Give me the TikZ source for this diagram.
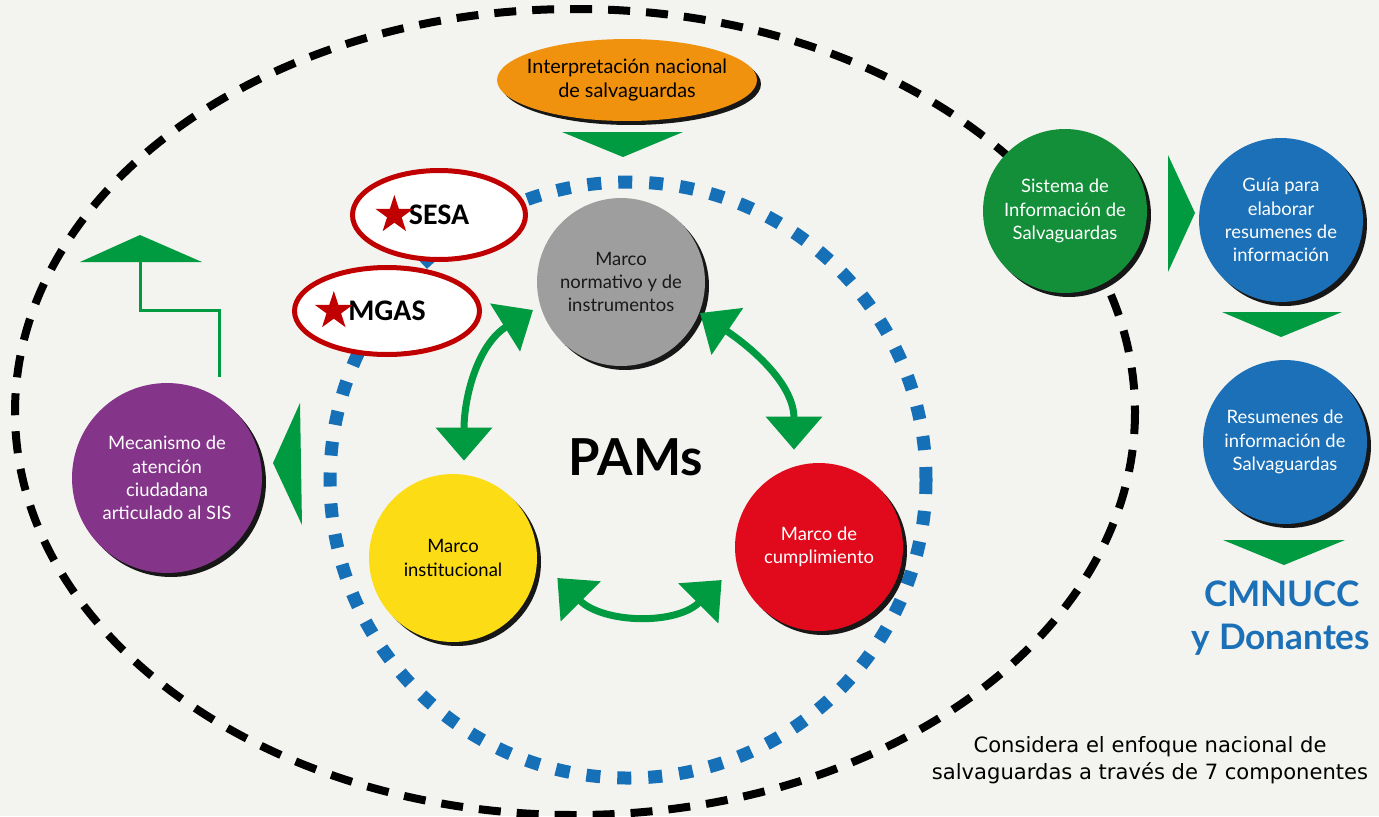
\documentclass[tikz,border=0pt]{standalone}
\usepackage{fontspec}
\setmainfont{Lato}
\newfontfamily\tagfont{Carlito}
\newfontfamily\notefont{DejaVu Sans}
\usepackage{tikz}
\usetikzlibrary{shapes.geometric,arrows.meta,shadows,positioning}

\definecolor{bgcol}{HTML}{F3F3EF}
\definecolor{orangec}{HTML}{F0920E}
\definecolor{grayc}{HTML}{9E9E9E}
\definecolor{yellowc}{HTML}{FCDC15}
\definecolor{redc}{HTML}{E10A1C}
\definecolor{purplec}{HTML}{843489}
\definecolor{greenc}{HTML}{138F3A}
\definecolor{bluec}{HTML}{1B70B7}
\definecolor{arrowgreen}{HTML}{009A41}
\definecolor{dotblue}{HTML}{1570B8}
\definecolor{sesared}{HTML}{C00000}

\tikzset{
	bubble/.style={circle, minimum size=3.36cm, inner sep=0pt, align=center,
		font=\fontsize{10.5}{13.2}\selectfont,
		drop shadow={shadow xshift=0.08cm, shadow yshift=-0.08cm, opacity=0.9, fill=black}},
	tagoval/.style={ellipse, draw=sesared, line width=0.1cm, fill=white, inner sep=0pt},
	tagtext/.style={font=\tagfont\bfseries\fontsize{17}{20}\selectfont, inner sep=0pt},
	redstar/.style={star, star points=5, star point ratio=2.6, fill=sesared, minimum size=0.8cm, inner sep=0pt},
	twoway/.style={draw=arrowgreen, line width=0.14cm,
		{Triangle[width=1.1cm,length=0.66cm]}-{Triangle[width=1.1cm,length=0.66cm]}}
}

\begin{document}
\begin{tikzpicture}[x=0.02cm, y=-0.02cm]
		\useasboundingbox (0,0) rectangle (1379,816);
		\fill[bgcol] (0,0) rectangle (1379,816);
		\clip (0,0) rectangle (1379,816);

		% Outer dashed ellipse.
		\draw[black, line width=0.16cm, dash pattern=on 0.44cm off 0.32cm]
			(575,412) ellipse [x radius=560, y radius=403];

		% Blue dotted circle round the PAMs.
		\draw[dotblue, line width=0.26cm, dash pattern=on 0.28cm off 0.34cm]
			(628,480) circle [radius=298];

		% Components.
		\node[bubble, ellipse, fill=orangec, minimum width=5.2cm, minimum height=1.64cm, inner xsep=-0.2cm,
			font=\fontsize{11.3}{13.5}\selectfont] (interp) at (627,80)
			{Interpretación nacional\\de salvaguardas};
		\node[bubble, fill=grayc, text=black!90] (normativo) at (621,282) {Marco\\normativo y de\\instrumentos};
		\node[bubble, fill=yellowc] (institucional) at (453,558) {Marco\\institucional};
		\node[bubble, fill=redc, text=white] (cumplimiento) at (819,547) {Marco de\\cumplimiento};
		\node[bubble, fill=purplec, text=white, minimum size=3.8cm] (mecanismo) at (167,478)
			{Mecanismo de\\atención\\ciudadana\\articulado al SIS};
		\node[bubble, fill=greenc, text=white, minimum size=3.28cm] (sis) at (1065,211)
			{Sistema de\\Información de\\Salvaguardas};
		\node[bubble, fill=bluec, text=white, minimum size=3.28cm] (guia) at (1281,220)
			{Guía para\\elaborar\\resumenes de\\información};
		\node[bubble, fill=bluec, text=white, minimum size=3.28cm] (resumenes) at (1285,442)
			{Resumenes de\\información de\\Salvaguardas};

		\node[font=\fontsize{29}{32}\selectfont\bfseries] (pams) at (636,457) {PAMs};

		% SESA and MGAS tags.
		\node[tagoval, minimum width=3.46cm, minimum height=1.78cm] (sesa) at (439,215) {};
		\node[tagtext] (sesatxt) at (sesa.center) {SESA};
		\node[redstar, left=0.06cm of sesatxt] (sesastar) {};
		\node[tagoval, minimum width=3.7cm, minimum height=1.74cm] (mgas) at (387,311) {};
		\node[tagtext] (mgastxt) at (mgas.center) {MGAS};
		\node[redstar, left=0.06cm of mgastxt] (mgasstar) {};

		% Green two-way arrows.
		\draw[twoway] ([shift={(-88,28)}]normativo.center) to[out=212, in=90] ([shift={(11,-13)}]institucional.north);
		\draw[twoway] ([shift={(79,31)}]normativo.center) to[out=-34, in=90] ([shift={(-25,-13)}]cumplimiento.north);
		\draw[twoway] ([shift={(20,20)}]institucional.east) to[out=-45, in=225] ([shift={(-13,33)}]cumplimiento.west);

		% Green pointers.
		\fill[arrowgreen] (562,132) -- (683,132) -- (623,157) -- cycle;
		\fill[arrowgreen] (1168,155) -- (1195,213) -- (1168,272) -- cycle;
		\fill[arrowgreen] (1222,312) -- (1342,312) -- (1281,337) -- cycle;
		\fill[arrowgreen] (1223,540) -- (1345,540) -- (1284,565) -- cycle;
		\fill[arrowgreen] (300,403) -- (273,463) -- (302,525) -- cycle;
		\fill[arrowgreen] (80,262) -- (140,235) -- (202,262) -- cycle;
		\draw[arrowgreen, line width=0.06cm] (219,377) -- (219,310) -- (140,310) -- (140,262);

		% Receivers and note.
		\node[anchor=base, text=bluec, font=\fontsize{20}{22}\selectfont\bfseries] (cmnucc) at (1282,606) {CMNUCC};
		\node[anchor=base, text=bluec, font=\fontsize{20}{22}\selectfont\bfseries] (donantes) at (1281,649) {y Donantes};
		\node[align=center, font=\notefont\fontsize{12}{15.4}\selectfont] (nota) at (1150,760)
			{Considera el enfoque nacional de\\salvaguardas a través de 7 componentes};
\end{tikzpicture}
\end{document}
